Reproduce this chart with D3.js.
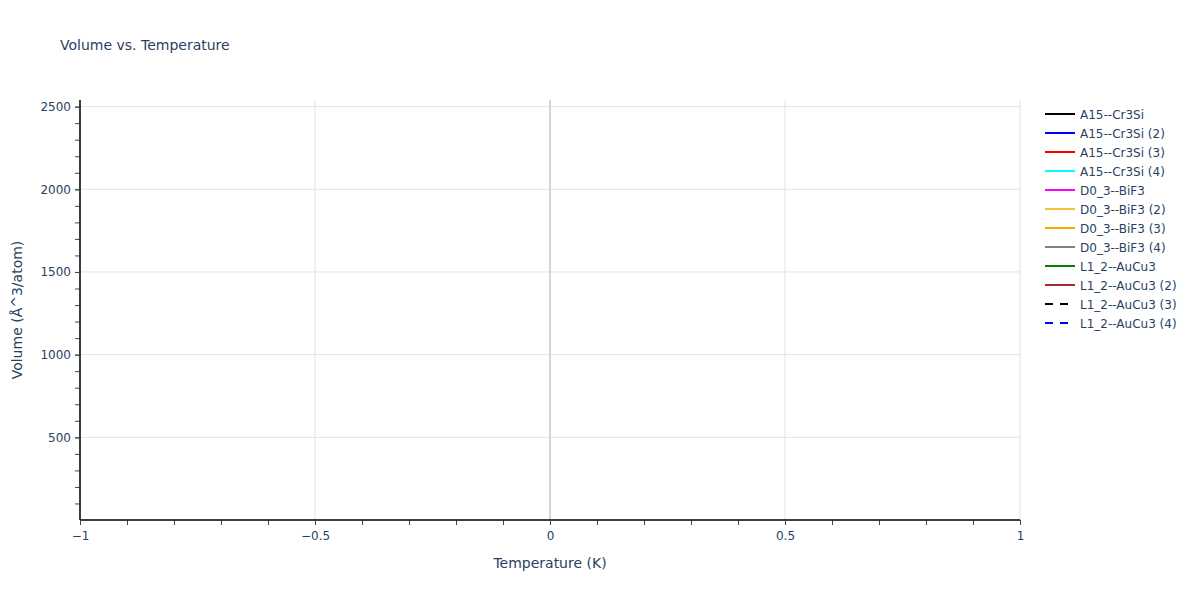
<!DOCTYPE html>
<html>
<head>
<meta charset="utf-8">
<script src="https://cdn.jsdelivr.net/npm/d3@7"></script>
<style>
  body { margin: 0; background: #fff; }
  text { font-family: "DejaVu Sans", Verdana, sans-serif; fill: #2a3f5f; }
</style>
</head>
<body>
<script>
// series shown in the legend (no plotted points in the reference)
var seriesNames = ['A15--Cr3Si', 'A15--Cr3Si (2)', 'A15--Cr3Si (3)', 'A15--Cr3Si (4)',
  'D0_3--BiF3', 'D0_3--BiF3 (2)', 'D0_3--BiF3 (3)', 'D0_3--BiF3 (4)',
  'L1_2--AuCu3', 'L1_2--AuCu3 (2)', 'L1_2--AuCu3 (3)', 'L1_2--AuCu3 (4)'];
var seriesColors = ['black', 'blue', 'red', 'cyan', 'magenta', '#f0c43a', 'orange', 'gray',
  'green', 'brown', 'black', 'blue'];
var seriesDashed = [false, false, false, false, false, false, false, false, false, false, true, true];
var temperature = [];   // K
var volumes = [[], [], [], [], [], [], [], [], [], [], [], []];   // Å^3/atom

var xDomain = [-1, 1];
var yDomain = [0, 2540];
var xTicks = [-1, -0.5, 0, 0.5, 1];
var yTicks = [500, 1000, 1500, 2000, 2500];

var drawChart = () => {
  const w = 1200, h = 600;
  const left = 80, right = 1020, top = 100, bottom = 520;

  var svg = d3.select('body')
    .append('svg')
    .attr('width', w)
    .attr('height', h);

  var x = d3.scaleLinear().domain(xDomain).range([left, right]);
  var y = d3.scaleLinear().domain(yDomain).range([bottom, top]);

  // grid
  svg.append('g').selectAll('line')
    .data(xTicks.filter(d => d !== 0))
    .enter().append('line')
    .attr('x1', d => x(d)).attr('x2', d => x(d))
    .attr('y1', top).attr('y2', bottom)
    .attr('stroke', '#e2e2e2').attr('stroke-width', 1);
  svg.append('g').selectAll('line')
    .data(yTicks)
    .enter().append('line')
    .attr('x1', left).attr('x2', right)
    .attr('y1', d => y(d)).attr('y2', d => y(d))
    .attr('stroke', '#e2e2e2').attr('stroke-width', 1);

  // zero line
  svg.append('line')
    .attr('x1', x(0)).attr('x2', x(0))
    .attr('y1', top).attr('y2', bottom)
    .attr('stroke', '#d4d4d4').attr('stroke-width', 2);

  // series lines
  var line = d3.line().x((d, i) => x(temperature[i])).y(d => y(d));
  svg.append('g').selectAll('path')
    .data(volumes)
    .enter().append('path')
    .attr('d', d => line(d))
    .attr('fill', 'none')
    .attr('stroke', (d, i) => seriesColors[i])
    .attr('stroke-width', 2)
    .attr('stroke-dasharray', (d, i) => seriesDashed[i] ? '6,6' : null);

  // axes
  var xAxis = d3.axisBottom(x).tickValues(xTicks).tickSize(5).tickPadding(6)
    .tickFormat(d3.format('~g'));
  var xMinor = d3.axisBottom(x).tickValues(d3.range(-10, 11).map(d => d / 10)).tickSize(5).tickFormat('');
  var gxm = svg.append('g').attr('transform', `translate(0,${bottom})`).call(xMinor);
  var gx = svg.append('g').attr('transform', `translate(0,${bottom})`).call(xAxis);
  [gx, gxm].forEach(g => {
    g.selectAll('.tick line').attr('stroke', '#444');
    g.select('.domain').attr('stroke', 'black').attr('stroke-width', 1)
      .attr('d', `M${left},0H${right}`);
  });
  gx.selectAll('.tick text').style('font-size', '12px');

  var yAxis = d3.axisLeft(y).tickValues(yTicks).tickSize(5).tickPadding(4)
    .tickFormat(d3.format('d'));
  var yMinor = d3.axisLeft(y).tickValues(d3.range(1, 26).map(d => d * 100)).tickSize(5).tickFormat('');
  var gym = svg.append('g').attr('transform', `translate(${left},0)`).call(yMinor);
  var gy = svg.append('g').attr('transform', `translate(${left},0)`).call(yAxis);
  [gy, gym].forEach(g => {
    g.selectAll('.tick line').attr('stroke', '#444');
    g.select('.domain').attr('stroke', 'black').attr('stroke-width', 1)
      .attr('d', `M0,${bottom}V${top}`);
  });
  gy.selectAll('.tick text').style('font-size', '12px');

  // titles
  svg.append('text')
    .attr('x', 60).attr('y', 50)
    .style('font-size', '14px')
    .text('Volume vs. Temperature');
  svg.append('text')
    .attr('x', (left + right) / 2).attr('y', 568)
    .attr('text-anchor', 'middle')
    .style('font-size', '14px')
    .text('Temperature (K)');
  svg.append('text')
    .attr('transform', `translate(22,${(top + bottom) / 2}) rotate(-90)`)
    .attr('text-anchor', 'middle')
    .style('font-size', '14px')
    .text('Volume (Å^3/atom)');

  // legend
  var legend = svg.append('g').selectAll('g')
    .data(seriesNames)
    .enter().append('g')
    .attr('transform', (d, i) => `translate(1045,${114 + i * 19})`);
  legend.append('line')
    .attr('x1', 0).attr('x2', 30)
    .attr('stroke', (d, i) => seriesColors[i])
    .attr('stroke-width', 2)
    .attr('stroke-dasharray', (d, i) => seriesDashed[i] ? '8,7' : null);
  legend.append('text')
    .attr('x', 35).attr('y', 4.5)
    .style('font-size', '12px')
    .text(d => d);
}

drawChart();
</script>
</body>
</html>
